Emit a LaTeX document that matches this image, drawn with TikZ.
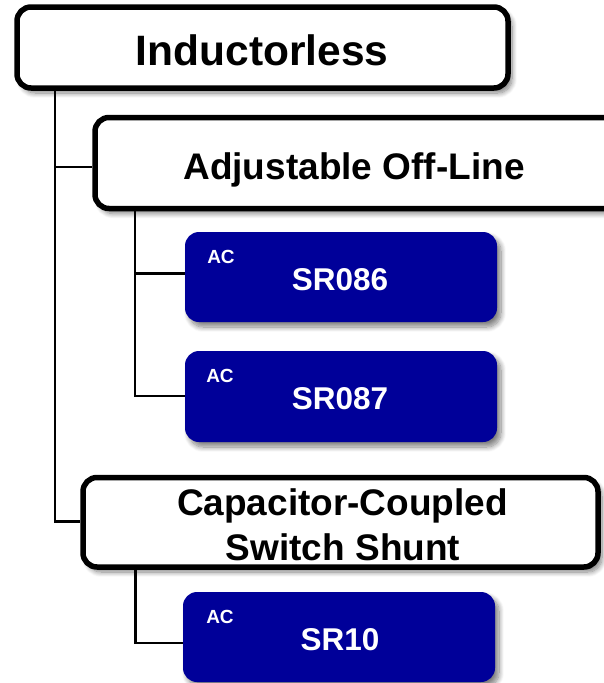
\documentclass[tikz,border=0pt]{standalone}
\usepackage{fontspec}
\setmainfont{Liberation Sans}
\usetikzlibrary{shadows.blur}
\definecolor{boxblue}{RGB}{0,0,153}
\begin{document}
\begin{tikzpicture}[x=1pt,y=-1pt,
  softshadow/.style={blur shadow={shadow xshift=4pt, shadow yshift=-5pt, shadow blur radius=5pt, shadow blur steps=10, shadow opacity=50}},
  whitebox/.style={draw=black, line width=5.5pt, fill=white, rounded corners=14pt, inner sep=0pt, softshadow},
  bluebox/.style={fill=boxblue, rounded corners=14pt, inner sep=0pt, softshadow},
  bigtext/.style={font=\bfseries\fontsize{37}{44}\selectfont, inner sep=0pt, anchor=base},
  srtext/.style={text=white, font=\bfseries\fontsize{31.5}{36}\selectfont, inner sep=0pt, anchor=base},
  actext/.style={text=white, font=\bfseries\fontsize{19}{22}\selectfont, inner sep=0pt, anchor=base},
  connector/.style={draw=black, line width=2.1pt}]
\useasboundingbox (0,0) rectangle (603,683);
% boxes
\node[whitebox, minimum width=491pt, minimum height=81pt] (ind) at (262.5,47.5) {};
\node[bigtext, font=\bfseries\fontsize{42.5}{50}\selectfont] (indt) at (262,65) {Inductorless};
\node[whitebox, minimum width=540pt, minimum height=91pt] (adj) at (365,163) {};
\node[bigtext] (adjt) at (354,179) {Adjustable Off-Line};
\node[bluebox, minimum width=312pt, minimum height=90pt] (sr086) at (341,277) {};
\node[actext] (ac1) at (221,263.5) {AC};
\node[srtext] (sr086t) at (340,290) {SR086};
\node[bluebox, minimum width=312pt, minimum height=91pt] (sr087) at (341,396.5) {};
\node[actext] (ac2) at (220,382.5) {AC};
\node[srtext] (sr087t) at (340,409) {SR087};
\node[whitebox, minimum width=515pt, minimum height=89.5pt] (cap) at (340.5,522.25) {};
\node[bigtext] (capt1) at (342.5,515) {Capacitor-Coupled};
\node[bigtext] (capt2) at (343,560) {Switch Shunt};
\node[bluebox, minimum width=312pt, minimum height=90pt] (sr10) at (339,637) {};
\node[actext] (ac3) at (220,623.5) {AC};
\node[srtext] (sr10t) at (340,650) {SR10};
% connectors
\draw[connector] (ind.south -| 55,0) |- (adj.west |- 0,167);
\draw[connector] (ind.south -| 55,0) |- (cap.west |- 0,521.5);
\draw[connector] (adj.south -| 135,0) |- (sr086.west |- 0,273.5);
\draw[connector] (adj.south -| 135,0) |- (sr087.west |- 0,396);
\draw[connector] (cap.south -| 135.5,0) |- (sr10.west |- 0,643);
\end{tikzpicture}
\end{document}
